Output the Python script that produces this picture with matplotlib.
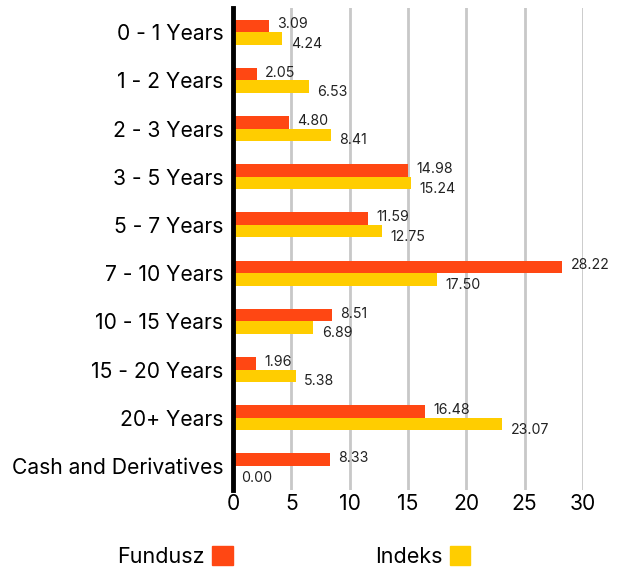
import matplotlib
matplotlib.use("Agg")
from matplotlib import pyplot as plt
from matplotlib.patches import Patch
import numpy as np

plt.rcParams["font.family"] = ["Inter", "DejaVu Sans"]

categories = ["0 - 1 Years", "1 - 2 Years", "2 - 3 Years", "3 - 5 Years", "5 - 7 Years",
              "7 - 10 Years", "10 - 15 Years", "15 - 20 Years", "20+ Years", "Cash and Derivatives"]
fundusz = [3.09, 2.05, 4.80, 14.98, 11.59, 28.22, 8.51, 1.96, 16.48, 8.33]
indeks = [4.24, 6.53, 8.41, 15.24, 12.75, 17.50, 6.89, 5.38, 23.07, 0.00]
x_ticks = [0, 5, 10, 15, 20, 25, 30]

orange = "#FF4713"
yellow = "#FFCD00"
bar_h = 0.26

fig = plt.figure(figsize=(6.22, 5.74), dpi=100)
ax = fig.add_axes([0.3746, 0.1463, 0.5627, 0.8397])

y = np.arange(len(categories))
ax.barh(y - bar_h/2, fundusz, height=bar_h, color=orange, zorder=3)
ax.barh(y + bar_h/2, indeks, height=bar_h, color=yellow, zorder=3)

for i in range(len(categories)):
	ax.annotate(f"{fundusz[i]:.2f}", (fundusz[i], y[i] - bar_h/2), xytext=(6, 1),
		textcoords="offset points", va="center", ha="left", fontsize=10.2, color="#222222")
	ax.annotate(f"{indeks[i]:.2f}", (indeks[i], y[i] + bar_h/2), xytext=(6, -4),
		textcoords="offset points", va="center", ha="left", fontsize=10.2, color="#222222")

ax.set_ylim(len(categories) - 0.5, -0.5)
ax.set_xlim(0, 30)
ax.set_yticks(y)
ax.set_yticklabels(categories, fontsize=15.2)
ax.set_xticks(x_ticks)
ax.set_xticklabels([str(t) for t in x_ticks], fontsize=15.2)
ax.tick_params(axis="both", length=0)
ax.tick_params(axis="y", pad=7)
ax.tick_params(axis="x", pad=3)
ax.grid(axis="x", color="#c8c8c8", linewidth=2, zorder=0)
for side in ["top", "right", "bottom"]:
	ax.spines[side].set_visible(False)
ax.spines["left"].set_linewidth(3.5)
ax.spines["left"].set_color("black")
ax.spines["left"].set_zorder(5)

handles = [Patch(color=orange, label="Fundusz"), Patch(color=yellow, label="Indeks")]
fig.legend(handles=handles, loc="center", bbox_to_anchor=(0.472, 0.03), ncol=2, frameon=False,
	markerfirst=False, fontsize=15.5, handlelength=0.95, handleheight=0.95, columnspacing=6.6,
	handletextpad=0.35)

plt.savefig("out.png", dpi=100)
